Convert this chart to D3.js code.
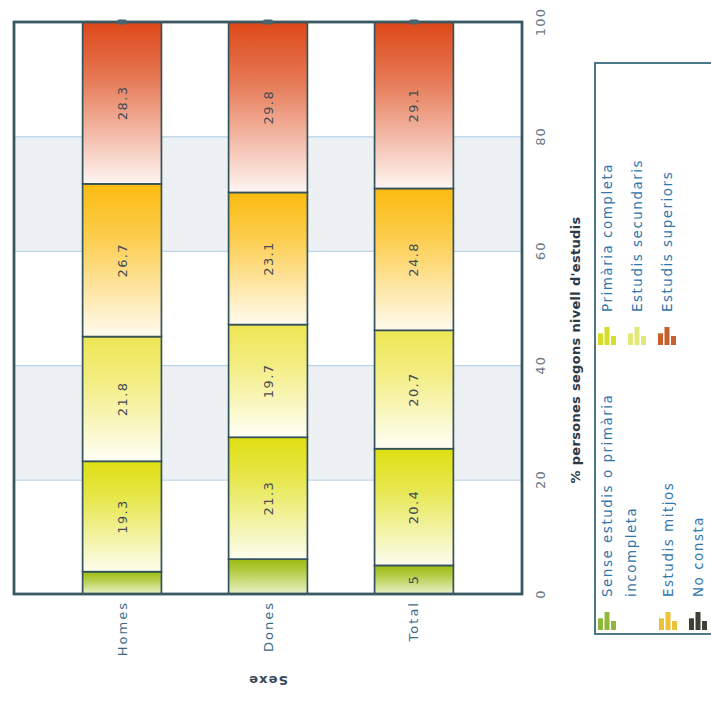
<!DOCTYPE html>
<html>
<head>
<meta charset="utf-8">
<script src="https://cdn.jsdelivr.net/npm/d3@7"></script>
<style>
  html, body { margin: 0; padding: 0; background: #ffffff; }
  svg { display: block; }
  text { font-family: "DejaVu Sans", Verdana, sans-serif; }
</style>
</head>
<body>
<svg id="chart" width="711" height="701"></svg>
<script>
// ---------------- DATA ----------------
const categories = ["Homes", "Dones", "Total"];
const seriesNames = [
  "Sense estudis o primària incompleta",
  "Primària completa",
  "Estudis secundaris",
  "Estudis mitjos",
  "Estudis superiors",
  "No consta"
];
const senseEstudis      = [3.9, 6.1, 5.0];
const primariaCompleta  = [19.3, 21.3, 20.4];
const estudisSecundaris = [21.8, 19.7, 20.7];
const estudisMitjos     = [26.7, 23.1, 24.8];
const estudisSuperiors  = [28.3, 29.8, 29.1];
const noConsta          = [0, 0, 0];
const seriesValues = [senseEstudis, primariaCompleta, estudisSecundaris, estudisMitjos, estudisSuperiors, noConsta];
const valueTicks = [0, 20, 40, 60, 80, 100];
const valueAxisTitle = "% persones segons nivell d'estudis";
const categoryAxisTitle = "Sexe";
// labels that the original chart does not print (category, series index)
const hiddenLabels = [["Homes", 0], ["Dones", 0]];

// ---------------- STYLE ----------------
const topColors    = ["#9dbd12", "#dfdf12", "#eee654", "#fbbb10", "#dc4818", "#3e3e30"];
const bottomColors = ["#eaf2c8", "#fdfdf0", "#fffff6", "#fffbef", "#fff6f3", "#bbbbb0"];
const iconColors   = ["#8fb83a", "#d6de28", "#e2e878", "#ecc23a", "#c8602e", "#3e4034"];

const svg = d3.select("#chart");
const defs = svg.append("defs");

const plot = { left: 14, right: 522, top: 22, bottom: 594 };

const y = d3.scaleLinear().domain([0, 100]).range([plot.bottom, plot.top]);
const x = d3.scaleBand().domain(categories).range([plot.left, plot.right])
  .paddingInner(0.46).paddingOuter(0.47);

// gradients
seriesNames.forEach((s, i) => {
  const g = defs.append("linearGradient").attr("id", "grad" + i)
    .attr("x1", 0).attr("y1", 0).attr("x2", 0).attr("y2", 1);
  g.append("stop").attr("offset", "0%").attr("stop-color", topColors[i]);
  g.append("stop").attr("offset", "35%").attr("stop-color", d3.interpolateRgb(topColors[i], bottomColors[i])(0.28));
  g.append("stop").attr("offset", "100%").attr("stop-color", bottomColors[i]);
});

// alternating bands
const bandPairs = d3.pairs(valueTicks);
svg.append("g").selectAll("rect").data(bandPairs).join("rect")
  .attr("x", plot.left).attr("width", plot.right - plot.left)
  .attr("y", d => y(d[1])).attr("height", d => y(d[0]) - y(d[1]))
  .attr("fill", (d, i) => i % 2 === 1 ? "#eef1f4" : "#ffffff");

// grid lines
svg.append("g").selectAll("line").data(valueTicks.slice(1, -1)).join("line")
  .attr("x1", plot.left).attr("x2", plot.right)
  .attr("y1", d => y(d) + 0.5).attr("y2", d => y(d) + 0.5)
  .attr("stroke", "#a9cbe0").attr("stroke-width", 1);

// stack
const rows = categories.map((c, ci) => {
  const r = { cat: c };
  seriesNames.forEach((s, si) => r[s] = seriesValues[si][ci]);
  return r;
});
const stacked = d3.stack().keys(seriesNames)(rows);

const barG = svg.append("g");
stacked.forEach((layer, si) => {
  barG.append("g").selectAll("rect").data(layer.filter(d => d[1] - d[0] > 0)).join("rect")
    .attr("x", d => x(d.data.cat))
    .attr("width", x.bandwidth())
    .attr("y", d => y(d[1]))
    .attr("height", d => y(d[0]) - y(d[1]))
    .attr("fill", `url(#grad${si})`)
    .attr("stroke", "#34525a").attr("stroke-width", 1.7);
});

// value labels
const labelG = svg.append("g");
stacked.forEach((layer, si) => {
  layer.forEach(d => {
    const v = d[1] - d[0];
    if (v <= 0) return;
    if (hiddenLabels.some(h => h[0] === d.data.cat && h[1] === si)) return;
    const cx = x(d.data.cat) + x.bandwidth() / 2;
    const cy = (y(d[0]) + y(d[1])) / 2;
    labelG.append("text")
      .attr("transform", `translate(${cx},${cy}) rotate(-90)`)
      .attr("text-anchor", "middle").attr("dominant-baseline", "central")
      .attr("font-size", 13).attr("letter-spacing", 1.4)
      .attr("fill", "#454c55")
      .text(Number.isInteger(v) ? d3.format("d")(v) : d3.format(".1f")(v));
  });
});

// plot frame
svg.append("rect")
  .attr("x", plot.left).attr("y", plot.top)
  .attr("width", plot.right - plot.left).attr("height", plot.bottom - plot.top)
  .attr("fill", "none").attr("stroke", "#3a5862").attr("stroke-width", 2.8);

// small markers at the 100 end of each bar
svg.append("g").selectAll("rect").data(categories).join("rect")
  .attr("x", d => x(d) + x.bandwidth() / 2 - 5).attr("y", y(100) - 2.5)
  .attr("width", 10).attr("height", 5).attr("rx", 2)
  .attr("fill", "#4a6470");

// value tick labels
svg.append("g").selectAll("text").data(valueTicks).join("text")
  .attr("transform", d => `translate(540,${y(d)}) rotate(-90)`)
  .attr("text-anchor", "middle").attr("dominant-baseline", "central")
  .attr("font-size", 13).attr("letter-spacing", 1.2)
  .attr("fill", "#6a7a88")
  .text(d => d);

// value axis title
svg.append("text")
  .attr("transform", `translate(575,350) rotate(-90)`)
  .attr("text-anchor", "middle").attr("dominant-baseline", "central")
  .attr("font-size", 13).attr("font-weight", "bold").attr("letter-spacing", 0.3)
  .attr("fill", "#2c3a46")
  .text(valueAxisTitle);

// category labels
svg.append("g").selectAll("text").data(categories).join("text")
  .attr("transform", d => `translate(${x(d) + x.bandwidth() / 2},601) rotate(-90)`)
  .attr("text-anchor", "end").attr("dominant-baseline", "central")
  .attr("font-size", 13).attr("letter-spacing", 2)
  .attr("fill", "#3c6a88")
  .text(d => d);

// category axis title (upside down)
svg.append("text")
  .attr("transform", `translate(${(plot.left + plot.right) / 2},680) rotate(180)`)
  .attr("text-anchor", "middle").attr("dominant-baseline", "central")
  .attr("font-size", 13).attr("font-weight", "bold").attr("letter-spacing", 1.2)
  .attr("fill", "#34495a")
  .text(categoryAxisTitle);

// legend
svg.append("rect").attr("x", 595).attr("y", 63).attr("width", 130).attr("height", 571)
  .attr("fill", "#ffffff").attr("stroke", "#3a6a80").attr("stroke-width", 1.8);

const legendLayout = [
  { x: 607, base: 597, lines: ["Sense estudis o primària", "incompleta"] },
  { x: 607, base: 312, lines: ["Primària completa"] },
  { x: 637, base: 312, lines: ["Estudis secundaris"] },
  { x: 668, base: 597, lines: ["Estudis mitjos"] },
  { x: 667, base: 312, lines: ["Estudis superiors"] },
  { x: 698, base: 597, lines: ["No consta"] }
];
const iconBars = [0.65, 1, 0.5];
const legendG = svg.append("g");
seriesNames.forEach((s, i) => {
  const L = legendLayout[i];
  L.lines.forEach((ln, li) => {
    legendG.append("text")
      .attr("transform", `translate(${L.x + li * 24},${L.base}) rotate(-90)`)
      .attr("text-anchor", "start").attr("dominant-baseline", "central")
      .attr("font-size", 13.5).attr("letter-spacing", 1.5)
      .attr("fill", "#3276aa")
      .text(ln);
  });
  // small bar icon
  const iconBottom = L.base + 33;
  iconBars.forEach((h, bi) => {
    legendG.append("rect")
      .attr("x", L.x - 9 + bi * 6.5).attr("y", iconBottom - h * 18)
      .attr("width", 5).attr("height", h * 18)
      .attr("fill", iconColors[i]);
  });
});
</script>
</body>
</html>
